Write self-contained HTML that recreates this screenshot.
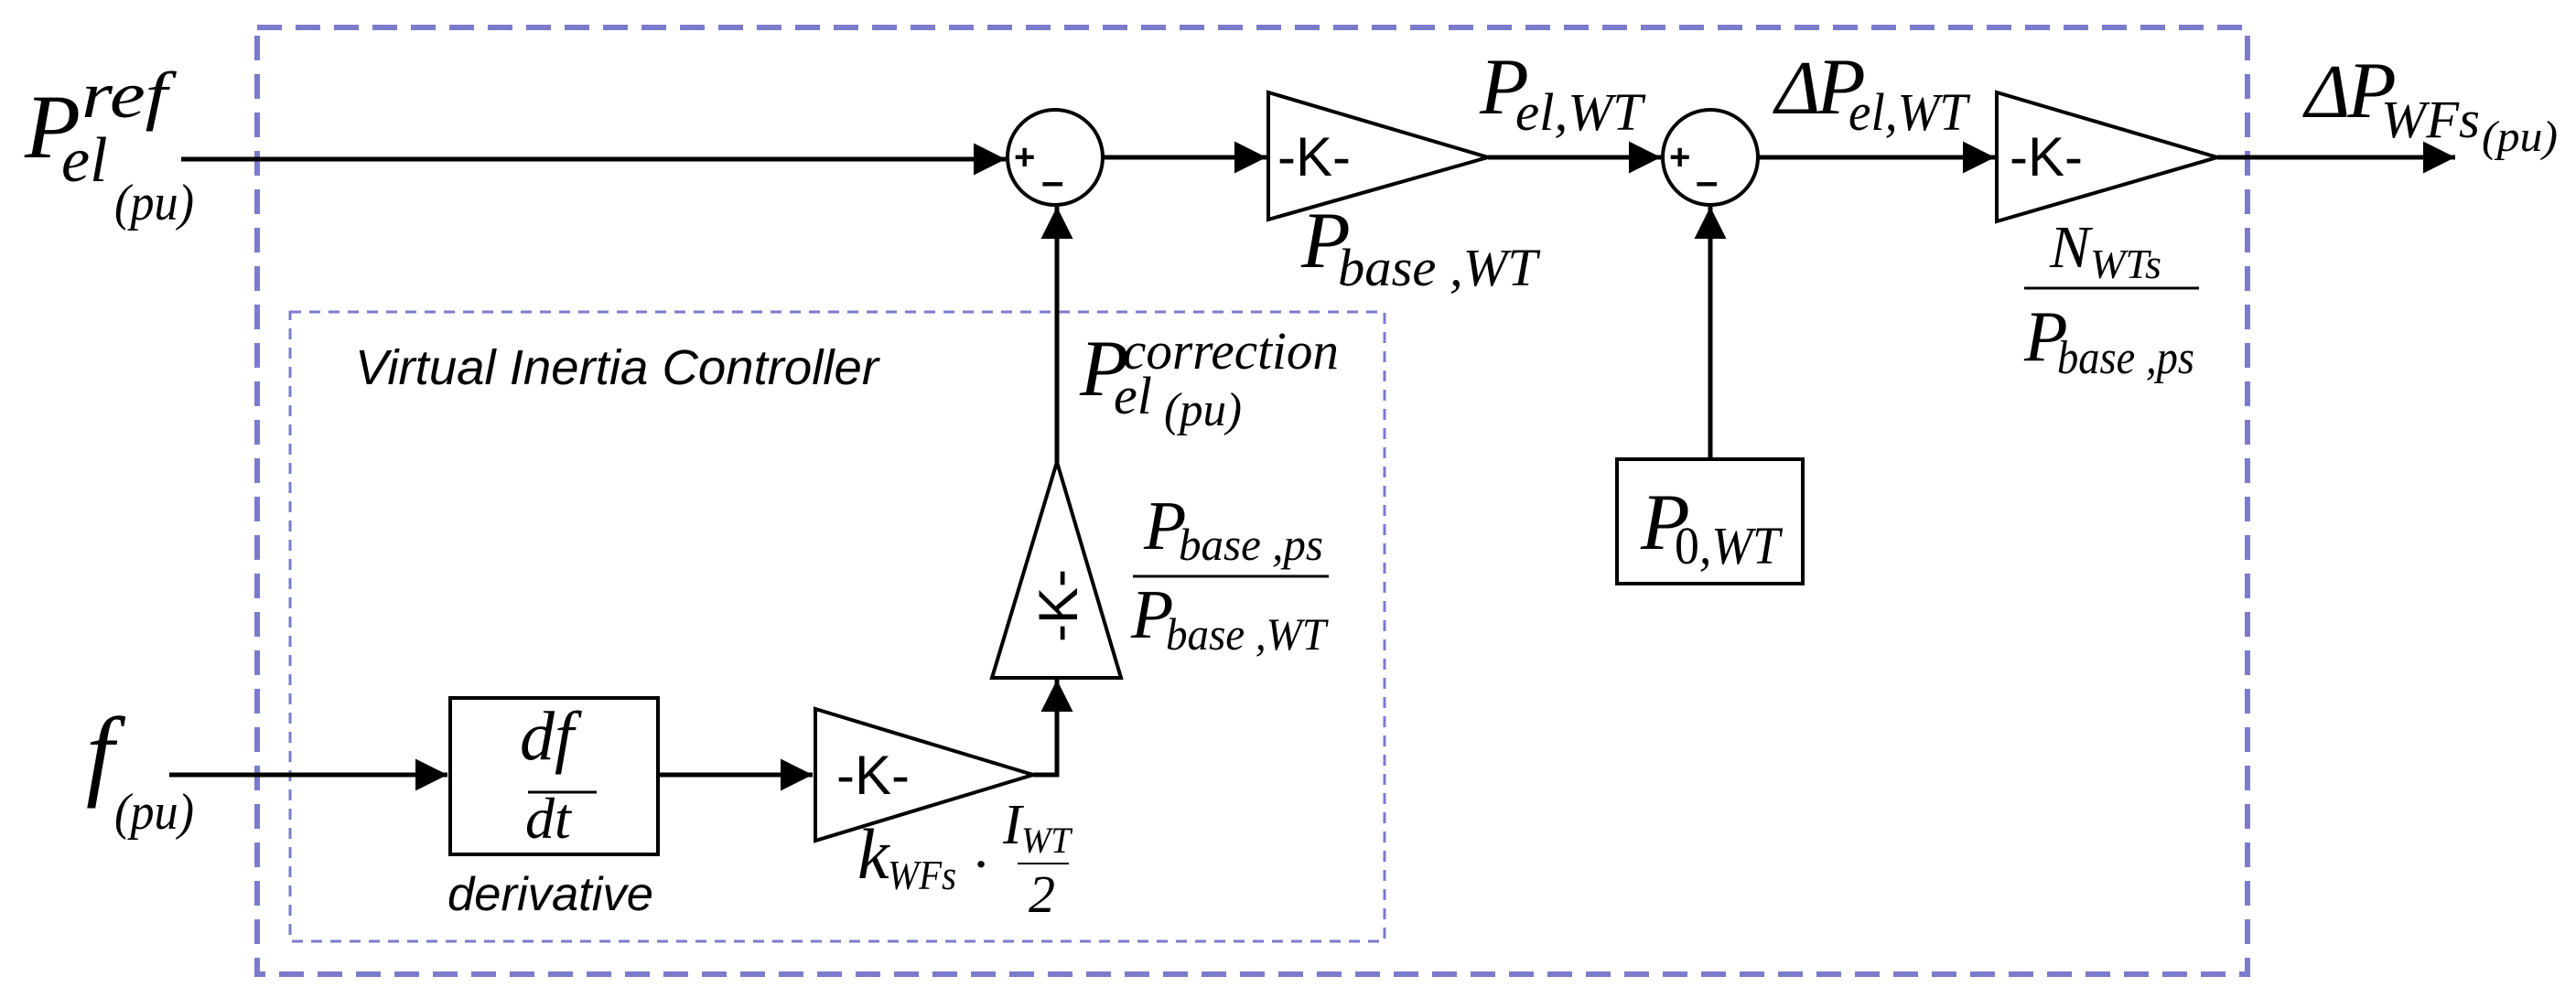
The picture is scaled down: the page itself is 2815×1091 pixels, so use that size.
<!DOCTYPE html>
<html><head><meta charset="utf-8"><style>
html,body{margin:0;padding:0;background:#fff}
svg{display:block}
.m{font-family:"Liberation Serif",serif;font-style:italic;fill:#000}
.s{font-family:"Liberation Sans",sans-serif;fill:#000}
</style></head><body>
<svg width="2815" height="1091" viewBox="0 0 2815 1091" xmlns="http://www.w3.org/2000/svg">
<defs>
<marker id="a" viewBox="0 0 10 10" refX="10" refY="5" markerWidth="7.5" markerHeight="7" markerUnits="strokeWidth" orient="auto"><path d="M0,0 L10,5 L0,10 z" fill="#000"/></marker>
</defs>
<rect x="281" y="30" width="2175" height="1035" fill="none" stroke="#7b7bcc" stroke-width="6" stroke-dasharray="27,15"/>
<rect x="317" y="341" width="1196" height="688" fill="none" stroke="#7b7bcc" stroke-width="3" stroke-dasharray="12,9"/>

<g stroke="#000" stroke-width="5" fill="none">
<line x1="198" y1="174" x2="1099" y2="174" marker-end="url(#a)"/>
<circle cx="1153" cy="172" r="52" stroke-width="4"/>
<line x1="1205" y1="172" x2="1384" y2="172" marker-end="url(#a)"/>
<polygon points="1386,101 1626,172 1386,240" stroke-width="4"/>
<line x1="1626" y1="172" x2="1815" y2="172" marker-end="url(#a)"/>
<circle cx="1869" cy="172" r="52" stroke-width="4"/>
<line x1="1921" y1="172" x2="2180" y2="172" marker-end="url(#a)"/>
<polygon points="2182,101 2423,172 2182,242" stroke-width="4"/>
<line x1="2423" y1="172" x2="2683" y2="172" marker-end="url(#a)"/>
<rect x="1767" y="502" width="203" height="136" stroke-width="4"/>
<line x1="1869" y1="502" x2="1869" y2="226" marker-end="url(#a)"/>
<line x1="185" y1="847" x2="489" y2="847" marker-end="url(#a)"/>
<rect x="492" y="763" width="227" height="171" stroke-width="4"/>
<line x1="719" y1="847" x2="888" y2="847" marker-end="url(#a)"/>
<polygon points="891,775 1129,847 891,919" stroke-width="4"/>
<polyline points="1129,847 1155,847 1155,743" marker-end="url(#a)"/>
<polygon points="1155,505 1225,741 1084,741" stroke-width="4"/>
<line x1="1155" y1="505" x2="1155" y2="226" marker-end="url(#a)"/>
<line x1="1238" y1="630" x2="1452" y2="630" stroke-width="3"/>
<line x1="2212" y1="315" x2="2403" y2="315" stroke-width="3"/>
<line x1="577" y1="866" x2="652" y2="866" stroke-width="3"/>
<line x1="1112" y1="944" x2="1168" y2="944" stroke-width="2"/>
</g>

<text class="s" x="1108" y="185" font-size="40" font-weight="bold">+</text>
<text class="s" x="1138" y="213" font-size="44" font-weight="bold">–</text>
<text class="s" x="1824" y="185" font-size="40" font-weight="bold">+</text>
<text class="s" x="1853" y="213" font-size="44" font-weight="bold">–</text>

<text class="s" x="1396" y="192" font-size="60">-K-</text>
<text class="s" x="2196" y="192" font-size="60">-K-</text>
<text class="s" x="914" y="868" font-size="60">-K-</text>
<text class="s" font-size="60" transform="translate(1177,702) rotate(-90)">-K-</text>

<text class="m" x="27" y="172" font-size="100">P</text>
<text class="m" x="89" y="128" font-size="72" textLength="94" lengthAdjust="spacingAndGlyphs">ref</text>
<text class="m" x="67" y="198" font-size="70">el</text>
<text class="m" x="125" y="240" font-size="56" textLength="87" lengthAdjust="spacingAndGlyphs">(pu)</text>

<text class="m" x="94" y="860" font-size="110">f</text>
<text class="m" x="125" y="906" font-size="56" textLength="87" lengthAdjust="spacingAndGlyphs">(pu)</text>

<text class="m" x="568" y="830" font-size="76">df</text>
<text class="m" x="574" y="916" font-size="64">dt</text>
<text class="s" x="489" y="995" font-size="52" font-style="italic" textLength="225" lengthAdjust="spacingAndGlyphs">derivative</text>

<text class="s" x="388" y="420" font-size="54" font-style="italic" textLength="572" lengthAdjust="spacingAndGlyphs">Virtual Inertia Controller</text>

<text class="m" x="937" y="960" font-size="78">k</text>
<text class="m" x="970" y="972" font-size="46" textLength="75" lengthAdjust="spacingAndGlyphs">WFs</text>
<text class="m" x="1066" y="960" font-size="46" font-weight="bold">·</text>
<text class="m" x="1096" y="922" font-size="62">I</text>
<text class="m" x="1116" y="932" font-size="40" textLength="54" lengthAdjust="spacingAndGlyphs">WT</text>
<text class="m" x="1124" y="997" font-size="58" font-style="normal">2</text>

<text class="m" x="1180" y="432" font-size="88">P</text>
<text class="m" x="1227" y="403" font-size="58" textLength="236" lengthAdjust="spacingAndGlyphs">correction</text>
<text class="m" x="1217" y="452" font-size="58">el</text>
<text class="m" x="1272" y="465" font-size="52" textLength="85" lengthAdjust="spacingAndGlyphs">(pu)</text>

<text class="m" x="1250" y="600" font-size="76">P</text>
<text class="m" x="1288" y="612" font-size="50" textLength="158" lengthAdjust="spacingAndGlyphs">base ,ps</text>
<text class="m" x="1236" y="697" font-size="76">P</text>
<text class="m" x="1274" y="710" font-size="50" textLength="175" lengthAdjust="spacingAndGlyphs">base ,WT</text>

<text class="m" x="1617" y="124" font-size="88">P</text>
<text class="m" x="1656" y="142" font-size="58" textLength="139" lengthAdjust="spacingAndGlyphs">el,WT</text>
<text class="m" x="1422" y="292" font-size="88">P</text>
<text class="m" x="1462" y="312" font-size="58" textLength="218" lengthAdjust="spacingAndGlyphs">base ,WT</text>

<text class="m" x="1940" y="124" font-size="84" font-style="normal">Δ</text>
<text class="m" x="1985" y="124" font-size="88">P</text>
<text class="m" x="2020" y="142" font-size="58" textLength="130" lengthAdjust="spacingAndGlyphs">el,WT</text>

<text class="m" x="1793" y="600" font-size="88">P</text>
<text class="m" x="1830" y="616" font-size="58" textLength="115" lengthAdjust="spacingAndGlyphs"><tspan font-style="normal">0</tspan>,WT</text>

<text class="m" x="2240" y="292" font-size="66" font-style="normal">N</text>
<text class="m" x="2284" y="304" font-size="46" font-style="normal" textLength="78" lengthAdjust="spacingAndGlyphs">WTs</text>
<text class="m" x="2212" y="394" font-size="78">P</text>
<text class="m" x="2248" y="408" font-size="52" textLength="150" lengthAdjust="spacingAndGlyphs">base ,ps</text>

<text class="m" x="2519" y="128" font-size="84" font-style="normal">Δ</text>
<text class="m" x="2565" y="128" font-size="88">P</text>
<text class="m" x="2602" y="150" font-size="58" textLength="108" lengthAdjust="spacingAndGlyphs">WFs</text>
<text class="m" x="2712" y="165" font-size="48" textLength="83" lengthAdjust="spacingAndGlyphs">(pu)</text>
</svg>
</body></html>
